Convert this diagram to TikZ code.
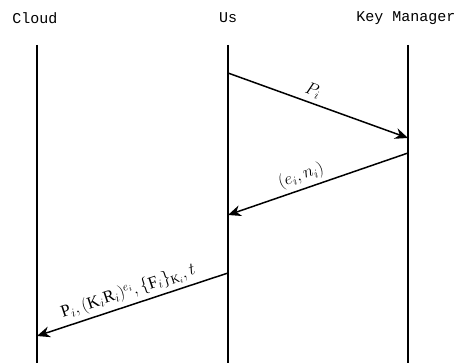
\documentclass[tikz,border=0pt]{standalone}
\usepackage{fontspec}
\setmainfont{Liberation Serif}
\setmonofont{Liberation Mono}
\usepackage{tikz}
\usetikzlibrary{positioning,arrows.meta}

\begin{document}
\begin{tikzpicture}[x=1pt,y=-1pt,
  party/.style={font=\ttfamily\fontsize{15}{17}\selectfont,inner sep=0pt},
  life/.style={line width=1.7pt},
  msg/.style={line width=1.5pt,-{Stealth[length=13pt,width=11pt]}},
  lbl/.style={font=\fontsize{17}{19}\selectfont,sloped,above=3pt,inner sep=1pt},
  >=Stealth]
  \useasboundingbox (0,0) rectangle (460,363);
  % parties
  \node[party] (cloud) at (35,18) {Cloud};
  \node[party] (us) at (228,18) {Us};
  \node[party] (km) at (406,18) {Key Manager};
  % lifelines
  \coordinate (cloudtop) at (37,45);
  \coordinate (cloudbot) at (37,363);
  \coordinate (ustop) at (228,45);
  \coordinate (usbot) at (228,363);
  \coordinate (kmtop) at (408,45);
  \coordinate (kmbot) at (408,363);
  \draw[life] (cloudtop) -- (cloudbot);
  \draw[life] (ustop) -- (usbot);
  \draw[life] (kmtop) -- (kmbot);
  % message ends
  \coordinate (m1s) at (228,73);
  \coordinate (m1e) at (408,138);
  \coordinate (m2s) at (408,153);
  \coordinate (m2e) at (228,215);
  \coordinate (m3s) at (228,273);
  \coordinate (m3e) at (37,336);
  % messages
  \draw[msg] (m1s) -- node[lbl,pos=0.45] {$P_i$} (m1e);
  \draw[msg] (m2s) -- node[lbl,pos=0.57] {$(e_i,n_i)$} (m2e);
  \draw[msg] (m3s) -- node[lbl,pos=0.5] {$\mathrm{P}_i,(\mathrm{K}_i\mathrm{R}_i)^{e_i},\{\mathrm{F}_i\}_{\mathrm{K}_i},t$} (m3e);
\end{tikzpicture}
\end{document}
